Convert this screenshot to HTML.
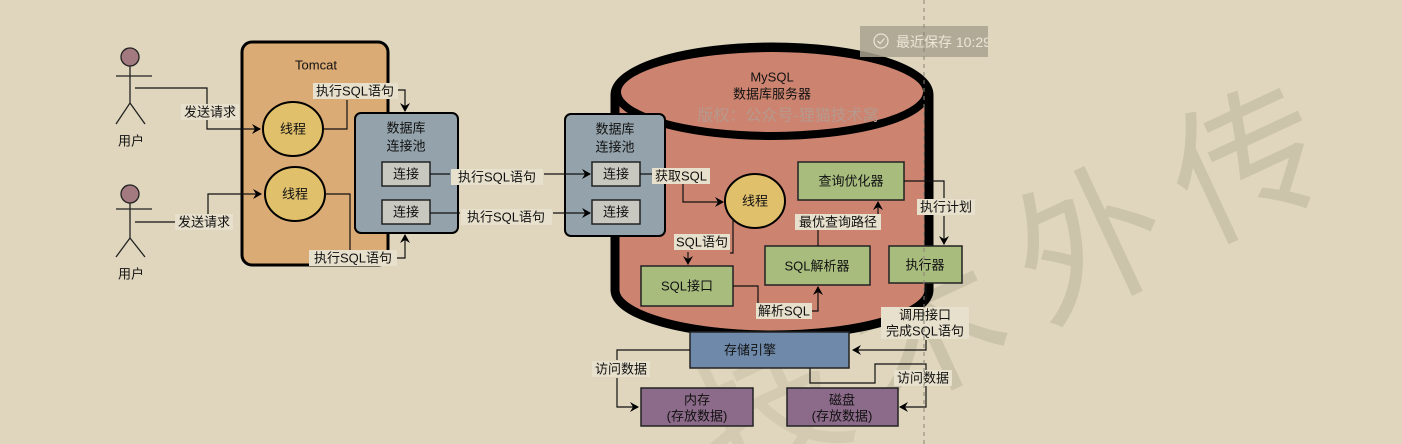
<!DOCTYPE html>
<html><head><meta charset="utf-8"><style>
html,body{margin:0;padding:0;background:#dfd6bd;width:1402px;height:444px;overflow:hidden;}
svg{display:block;overflow:hidden;}
text{font-family:"Liberation Sans","Noto Sans CJK SC",sans-serif;font-size:13px;fill:#111;}
.c{text-anchor:middle;dominant-baseline:central;}
.wm{font-size:150px;fill:#cbc3aa;}
</style></head><body>
<svg width="1402" height="444" viewBox="0 0 1402 444" xmlns="http://www.w3.org/2000/svg">
<defs><marker id="a" markerWidth="10" markerHeight="10" refX="8" refY="5" orient="auto" markerUnits="userSpaceOnUse"><path d="M0,0 L9,5 L0,10 L3,5 Z" fill="#000"/></marker></defs>
<rect width="1402" height="444" fill="#dfd6bd"/>
<g text-anchor="middle" dominant-baseline="central">
<text x="1248" y="165" transform="rotate(-25 1248 165)" class="wm">传</text>
<text x="1090" y="245" transform="rotate(-25 1090 245)" class="wm">外</text>
<text x="930" y="330" transform="rotate(-25 930 330)" class="wm">术</text>
<text x="770" y="410" transform="rotate(-25 770 410)" class="wm" style="fill:#d3cab1">技</text>
</g>
<!-- actors -->
<g stroke="#222" stroke-width="1.3" fill="none">
<circle cx="130" cy="57" r="9" fill="#a27a80"/>
<path d="M130,66V103M116,76H152M130,103L116,124M130,103L145,124"/>
<circle cx="130" cy="194" r="9" fill="#a27a80"/>
<path d="M130,203V238M116,209H152M130,238L116,257M130,238L145,257"/>
</g>
<text x="131" y="141" class="c">用户</text>
<text x="131" y="274" class="c">用户</text>
<!-- tomcat -->
<rect x="242" y="42" width="146" height="223" rx="10" fill="#dbab76" stroke="#000" stroke-width="3"/>
<text x="316" y="65" class="c">Tomcat</text>
<ellipse cx="293" cy="129" rx="30" ry="27" fill="#e1c06c" stroke="#000" stroke-width="2"/>
<text x="293" y="129" class="c">线程</text>
<ellipse cx="295" cy="194" rx="30" ry="27" fill="#e1c06c" stroke="#000" stroke-width="2"/>
<text x="295" y="194" class="c">线程</text>
<!-- pool1 -->
<rect x="355" y="113" width="103" height="120" rx="6" fill="#94a3ab" stroke="#000" stroke-width="2"/>
<text x="406" y="128" class="c">数据库</text><text x="406" y="146" class="c">连接池</text>
<rect x="382" y="162" width="48" height="24" fill="#c9c8c0" stroke="#222" stroke-width="1.5"/>
<text x="406" y="174" class="c">连接</text>
<rect x="382" y="200" width="48" height="24" fill="#c9c8c0" stroke="#222" stroke-width="1.5"/>
<text x="406" y="212" class="c">连接</text>
<!-- cylinder -->
<path d="M615,95 A157,48 0 0,1 929,95 V290 A157,45 0 0,1 615,290 Z" fill="#cc8470" stroke="#000" stroke-width="9"/>
<ellipse cx="772" cy="92" rx="155" ry="44" fill="#cc8470" stroke="#000" stroke-width="8"/>
<text x="772" y="77" class="c">MySQL</text>
<text x="772" y="94" class="c">数据库服务器</text>
<text x="788" y="116" class="c" style="font-size:16px;fill:#b6998c">版权：公众号-狸猫技术窝</text>
<rect x="565" y="114" width="100" height="122" rx="6" fill="#94a3ab" stroke="#000" stroke-width="2"/>
<text x="615" y="129" class="c">数据库</text><text x="615" y="147" class="c">连接池</text>
<rect x="592" y="162" width="48" height="24" fill="#c9c8c0" stroke="#222" stroke-width="1.5"/>
<text x="616" y="174" class="c">连接</text>
<rect x="592" y="200" width="48" height="24" fill="#c9c8c0" stroke="#222" stroke-width="1.5"/>
<text x="616" y="212" class="c">连接</text>
<ellipse cx="755" cy="201" rx="30" ry="27" fill="#e1c06c" stroke="#000" stroke-width="2"/>
<text x="755" y="201" class="c">线程</text>
<g stroke="#222" stroke-width="1.5">
<rect x="798" y="162" width="106" height="38" fill="#a8bc7e"/>
<rect x="765" y="246" width="105" height="39" fill="#a8bc7e"/>
<rect x="889" y="246" width="73" height="37" fill="#a8bc7e"/>
<rect x="641" y="266" width="92" height="40" fill="#a8bc7e"/>
<rect x="690" y="332" width="159" height="36" fill="#6e89a9"/>
<rect x="641" y="388" width="112" height="38" fill="#8c6a89"/>
<rect x="787" y="388" width="111" height="38" fill="#8c6a89"/>
</g>
<text x="851" y="181" class="c">查询优化器</text>
<text x="817" y="266" class="c">SQL解析器</text>
<text x="925" y="265" class="c">执行器</text>
<text x="687" y="286" class="c">SQL接口</text>
<text x="750" y="350" class="c">存储引擎</text>
<text x="697" y="400" class="c">内存</text><text x="697" y="416" class="c">(存放数据)</text>
<text x="842" y="400" class="c">磁盘</text><text x="842" y="416" class="c">(存放数据)</text>
<!-- connectors -->
<g stroke="#111" stroke-width="1.2" fill="none">
<path d="M135,88H207V129H260" marker-end="url(#a)"/>
<path d="M135,222H175M208,222V194H261" marker-end="url(#a)"/>
<path d="M323,129H347V100"/>
<path d="M397,90H405V111" marker-end="url(#a)"/>
<path d="M325,194H350V250"/>
<path d="M397,258H405V235" marker-end="url(#a)"/>
<path d="M430,174H450M544,174H590" marker-end="url(#a)"/>
<path d="M430,213H460M553,213H590" marker-end="url(#a)"/>
<path d="M640,174H652M683,184V202H723" marker-end="url(#a)"/>
<path d="M733,218V253H730"/>
<path d="M688,252V264" marker-end="url(#a)"/>
<path d="M733,286H758V303"/>
<path d="M812,311H818V287" marker-end="url(#a)"/>
<path d="M818,246V230"/>
<path d="M878,214V202" marker-end="url(#a)"/>
<path d="M904,181H944V198M944,216V244" marker-end="url(#a)"/>
<path d="M926,283V305M926,340V350H853" marker-end="url(#a)"/>
<path d="M690,350H617V360M617,378V407H638" marker-end="url(#a)"/>
<path d="M810,368V383H875V364H926V370M926,386V407H900" marker-end="url(#a)"/>
</g>
<!-- labels with bg -->
<g fill="#e7e0cc">
<rect x="181" y="104" width="58" height="16"/><rect x="175" y="214" width="58" height="16"/>
<rect x="313" y="83" width="85" height="16"/><rect x="309" y="250" width="88" height="16"/>
<rect x="451" y="169" width="92" height="16"/><rect x="461" y="209" width="91" height="16"/>
<rect x="652" y="168" width="58" height="16"/><rect x="674" y="234" width="56" height="16"/>
<rect x="756" y="303" width="56" height="16"/><rect x="795" y="214" width="86" height="16"/>
<rect x="917" y="199" width="58" height="16"/><rect x="881" y="307" width="88" height="32"/>
<rect x="592" y="361" width="58" height="16"/><rect x="894" y="370" width="58" height="16"/>
</g>
<text x="210" y="112" class="c">发送请求</text>
<text x="204" y="222" class="c">发送请求</text>
<text x="355" y="91" class="c">执行SQL语句</text>
<text x="353" y="258" class="c">执行SQL语句</text>
<text x="497" y="177" class="c">执行SQL语句</text>
<text x="506" y="217" class="c">执行SQL语句</text>
<text x="681" y="176" class="c">获取SQL</text>
<text x="702" y="242" class="c">SQL语句</text>
<text x="784" y="311" class="c">解析SQL</text>
<text x="838" y="222" class="c">最优查询路径</text>
<text x="946" y="207" class="c">执行计划</text>
<text x="925" y="315" class="c">调用接口</text>
<text x="925" y="331" class="c">完成SQL语句</text>
<text x="621" y="369" class="c">访问数据</text>
<text x="923" y="378" class="c">访问数据</text>
<!-- save badge -->
<rect x="860" y="26" width="128" height="31" fill="#a9a291" opacity="0.85"/>
<circle cx="881" cy="41" r="7" fill="none" stroke="#e8e2d4" stroke-width="1.3"/>
<path d="M877.5,41 L880,43.5 L884.5,38.5" fill="none" stroke="#e8e2d4" stroke-width="1.3"/>
<text x="896" y="42" style="fill:#ece6d8;font-size:14px" dominant-baseline="central">最近保存 10:29</text>
<rect x="988" y="20" width="20" height="40" fill="#dfd6bd"/>
<line x1="924" y1="0" x2="924" y2="444" stroke="#8a8478" stroke-width="1" stroke-dasharray="4,4"/>
</svg>
</body></html>
